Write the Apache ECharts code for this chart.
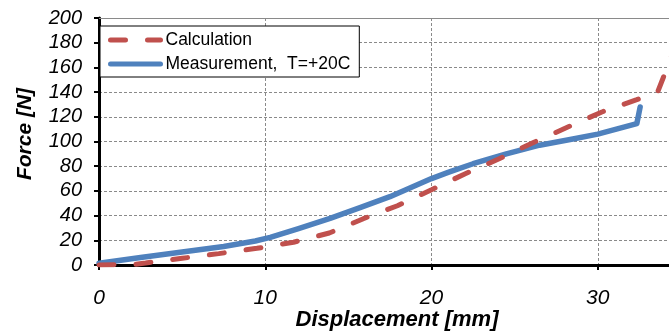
<!DOCTYPE html>
<html>
<head>
<meta charset="utf-8">
<script src="https://cdn.jsdelivr.net/npm/echarts@6/dist/echarts.min.js"></script>
<style>
    html, body { margin: 0; padding: 0; background: #fff; }
    #chart { width: 669px; height: 333px; }
</style>
</head>
<body>
<div id="chart"></div>
<script>
    // measured curve (blue)
    var measX = [0, 2.5, 5, 7.5, 9.4, 10.3, 12, 13.9, 15.7, 17.5, 20, 21, 22.5, 24.5, 26.5, 28.5, 30, 32.35, 32.55];
    var measF = [1.4, 6, 10.5, 15, 19.4, 22.4, 29.5, 37.8, 46.5, 55.3, 70, 75, 82, 90, 97, 102, 106, 114.5, 128];
    // calculated curve (red dashed)
    var calcX = [0, 2, 2.8, 5, 7.2, 9.5, 11.7, 13.85, 15.9, 17.95, 20, 22, 24.07, 26.2, 28.2, 30.25, 32.35, 33.6, 34.3, 35];
    var calcF = [0, 0.3, 1.6, 5.4, 9.2, 13.5, 18.4, 25.9, 37.5, 48, 61, 73.7, 86, 99.6, 111.7, 123.9, 133.9, 140, 164, 190];

    var xTicks = [0, 10, 20, 30, 40];
    var yTicks = [0, 20, 40, 60, 80, 100, 120, 140, 160, 180, 200];

    var nameCalc = 'Calculation';
    var nameMeas = 'Measurement,  T=+20C';

    function pairs(xs, ys) {
        var out = [];
        xs.forEach(function (x, i) { out.push([x, ys[i]]); });
        return out;
    }

    var font = '"Liberation Sans", Arial, sans-serif';
    var chart = echarts.init(document.getElementById('chart'));

    var option = {
        backgroundColor: '#fff',
        animation: false,
        grid: {
            left: 99,
            top: 18,
            width: 665,
            height: 247,
            containLabel: false,
            outerBoundsMode: 'none'
        },
        legend: {
            orient: 'vertical',
            left: 100,
            top: 26,
            data: [nameCalc, nameMeas],
            padding: [5, 9, 4, 8],
            itemGap: 6,
            itemWidth: 50,
            itemHeight: 14,
            itemStyle: { opacity: 0 },
            lineStyle: { width: 5 },
            borderColor: '#000',
            borderWidth: 1,
            borderRadius: 0,
            backgroundColor: '#fff',
            textStyle: {
                fontFamily: font,
                fontSize: 17.5,
                color: '#000'
            }
        },
        xAxis: [{
            type: 'value',
            min: xTicks[0],
            max: xTicks[xTicks.length - 1],
            interval: 10,
            axisLine: { lineStyle: { color: '#000', width: 3 } },
            axisTick: { show: true, length: 5, lineStyle: { color: '#000', width: 2 } },
            axisLabel: {
                margin: 23,
                fontFamily: font,
                fontSize: 21,
                fontStyle: 'italic',
                color: '#000'
            },
            splitLine: { show: true, lineStyle: { color: '#8a8a8a', width: 1, type: [3, 2] } }
        }, {
            type: 'value',
            position: 'top',
            min: xTicks[0],
            max: xTicks[xTicks.length - 1],
            axisLine: { show: true, onZero: false, lineStyle: { color: '#8a8a8a', width: 1 } },
            axisTick: { show: false },
            axisLabel: { show: false },
            splitLine: { show: false }
        }],
        yAxis: {
            type: 'value',
            min: yTicks[0],
            max: yTicks[yTicks.length - 1],
            interval: 20,
            axisLine: { show: true, lineStyle: { color: '#000', width: 3 } },
            axisTick: { show: true, length: 5, lineStyle: { color: '#000', width: 2 } },
            axisLabel: {
                margin: 17,
                fontFamily: font,
                fontSize: 20,
                fontStyle: 'italic',
                color: '#000'
            },
            splitLine: { show: true, lineStyle: { color: '#8a8a8a', width: 1, type: [3, 2] } }
        },
        graphic: [{
            type: 'text',
            x: 25,
            y: 134,
            rotation: Math.PI / 2,
            style: {
                text: 'Force [N]',
                font: 'italic bold 21px "Liberation Sans", Arial, sans-serif',
                fill: '#000',
                textAlign: 'center',
                textVerticalAlign: 'middle'
            }
        }, {
            type: 'text',
            x: 397,
            y: 320,
            style: {
                text: 'Displacement [mm]',
                font: 'italic bold 22px "Liberation Sans", Arial, sans-serif',
                fill: '#000',
                textAlign: 'center',
                textVerticalAlign: 'middle'
            }
        }],
        series: [{
            name: nameMeas,
            type: 'line',
            showSymbol: false,
            symbol: 'none',
            color: '#4f81bd',
            lineStyle: { color: '#4f81bd', width: 5.5, join: 'round', cap: 'round' },
            data: pairs(measX, measF)
        }, {
            name: nameCalc,
            type: 'line',
            showSymbol: false,
            symbol: 'none',
            color: '#c0504d',
            lineStyle: { color: '#c0504d', width: 5, type: [15, 22], cap: 'round' },
            data: pairs(calcX, calcF)
        }]
    };

    chart.setOption(option);
</script>
</body>
</html>
